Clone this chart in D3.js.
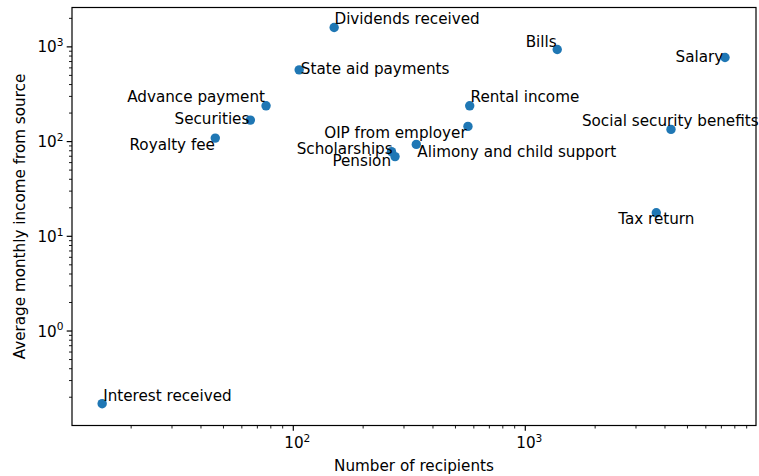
<!DOCTYPE html>
<html>
<head>
<meta charset="utf-8">
<script src="https://cdn.jsdelivr.net/npm/d3@7"></script>
<style>
  html, body { margin: 0; padding: 0; background: #fff; }
  svg { display: block; }
  text { font-family: "DejaVu Sans", sans-serif; fill: #000; }
</style>
</head>
<body>
<svg id="chart" width="759" height="476"></svg>
<script>
// Income sources: number of recipients vs. average monthly income
const sources = [
  "Dividends received", "State aid payments", "Advance payment", "Securities",
  "Royalty fee", "Rental income", "OIP from employer", "Alimony and child support",
  "Scholarships", "Pension", "Bills", "Salary", "Social security benefits",
  "Tax return", "Interest received"
];
const recipients = [150, 106, 76.3, 65.3, 46.1, 576, 566, 339, 265, 274.5, 1373, 7258, 4246, 3670, 15.0];
const avgIncome  = [1602, 572, 238.6, 168.6, 108.9, 238.6, 144.7, 93.4, 78.4, 69.4, 939, 773, 134.5, 17.7, 0.171];

// Label placement relative to each point: [dx, dy, anchor]
const labelPlacement = [
  [0.3, -3, "start"], [1.7, 4.3, "start"], [-1, -3.4, "end"], [-1, 4.3, "end"],
  [-0.3, 12, "end"], [0.8, -3.4, "start"], [-1.3, 12, "end"], [1, 12.4, "start"],
  [1.2, 2.2, "end"], [-4, 9.2, "end"], [-0.6, -2.6, "end"], [-1.7, 5, "end"],
  [-0.7, -3.3, "middle"], [0, 11.6, "middle"], [1, -3, "start"]
];

const xTickExps = [2, 3];
const yTickExps = [0, 1, 2, 3];
const xTitle = "Number of recipients";
const yTitle = "Average monthly income from source";

const FS = 15.2;
const box = { left: 72, right: 756, top: 7.5, bottom: 425.5 };

const svg = d3.select("#chart");

const x = d3.scaleLog().domain([11.12, 9872]).range([box.left, box.right]);
const y = d3.scaleLog().domain([0.1006, 2604]).range([box.bottom, box.top]);

// minor + major ticks
function logTicks(scale) {
  const [a, b] = scale.domain();
  const out = [];
  for (let e = Math.floor(Math.log10(a)); e <= Math.ceil(Math.log10(b)); e++) {
    for (let m = 1; m <= 9; m++) {
      const v = m * Math.pow(10, e);
      if (v >= a && v <= b) out.push({ v, major: m === 1 });
    }
  }
  return out;
}

const axG = svg.append("g");

// x ticks
axG.selectAll(".xt").data(logTicks(x)).enter().append("line")
  .attr("x1", d => x(d.v)).attr("x2", d => x(d.v))
  .attr("y1", box.bottom).attr("y2", d => box.bottom + (d.major ? 5.3 : 3))
  .attr("stroke", "#000").attr("stroke-width", d => d.major ? 1.2 : 0.9);

// y ticks
axG.selectAll(".yt").data(logTicks(y)).enter().append("line")
  .attr("y1", d => y(d.v)).attr("y2", d => y(d.v))
  .attr("x1", box.left).attr("x2", d => box.left - (d.major ? 5.3 : 3))
  .attr("stroke", "#000").attr("stroke-width", d => d.major ? 1.2 : 0.9);

// 10^n labels
function powerLabel(sel, e) {
  sel.append("tspan").text("10");
  sel.append("tspan").text(e).attr("font-size", FS * 0.7).attr("dy", -FS * 0.42);
}

xTickExps.forEach(e => {
  const t = axG.append("text")
    .attr("x", x(Math.pow(10, e)) + 4).attr("y", 448)
    .attr("text-anchor", "middle").attr("font-size", FS);
  powerLabel(t, e);
});

yTickExps.forEach(e => {
  const t = axG.append("text")
    .attr("x", 63.5).attr("y", y(Math.pow(10, e)) + 5.6)
    .attr("text-anchor", "end").attr("font-size", FS);
  powerLabel(t, e);
});

// axis titles
svg.append("text")
  .attr("x", (box.left + box.right) / 2).attr("y", 470.5)
  .attr("text-anchor", "middle").attr("font-size", FS)
  .text(xTitle);

svg.append("text")
  .attr("transform", `translate(25,${(box.top + box.bottom) / 2}) rotate(-90)`)
  .attr("text-anchor", "middle").attr("font-size", FS)
  .text(yTitle);

// points
const rows = sources.map((s, i) => ({ s, n: recipients[i], v: avgIncome[i], p: labelPlacement[i] }));

svg.append("g").selectAll("circle").data(rows).enter().append("circle")
  .attr("cx", d => x(d.n)).attr("cy", d => y(d.v)).attr("r", 4.7)
  .attr("fill", "#1f77b4");

// point labels
svg.append("g").selectAll("text").data(rows).enter().append("text")
  .attr("x", d => x(d.n) + d.p[0]).attr("y", d => y(d.v) + d.p[1])
  .attr("text-anchor", d => d.p[2]).attr("font-size", FS)
  .text(d => d.s);

// frame
svg.append("rect")
  .attr("x", box.left).attr("y", box.top)
  .attr("width", box.right - box.left).attr("height", box.bottom - box.top)
  .attr("fill", "none").attr("stroke", "#000").attr("stroke-width", 1.2);
</script>
</body>
</html>
